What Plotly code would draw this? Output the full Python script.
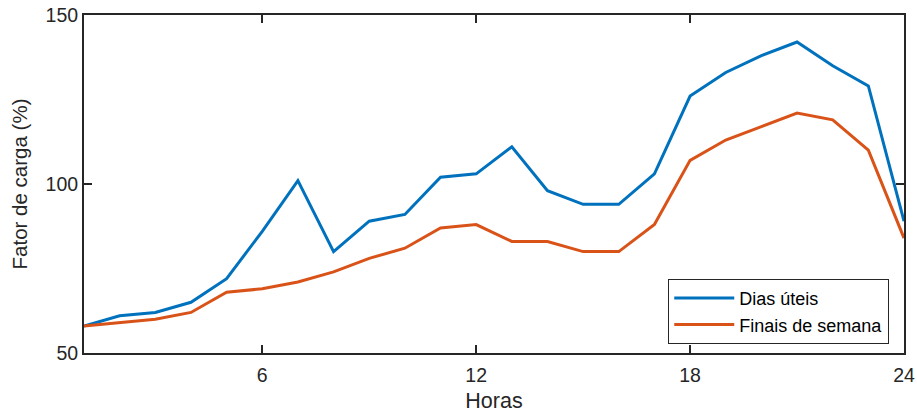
import plotly.graph_objects as go

horas = list(range(1, 25))
dias_uteis = [58, 61, 62, 65, 72, 86, 101, 80, 89, 91, 102, 103, 111, 98, 94, 94, 103, 126, 133, 138, 142, 135, 129, 89]
finais_semana = [58, 59, 60, 62, 68, 69, 71, 74, 78, 81, 87, 88, 83, 83, 80, 80, 88, 107, 113, 117, 121, 119, 110, 84]
x_ticks = [6, 12, 18, 24]
y_ticks = [50, 100, 150]

FONT = "Liberation Sans, Arial"

fig = go.Figure()
fig.add_trace(go.Scatter(x=horas, y=dias_uteis, mode="lines", name="Dias úteis",
                         line=dict(color="#0072BD", width=3)))
fig.add_trace(go.Scatter(x=horas, y=finais_semana, mode="lines", name="Finais de semana",
                         line=dict(color="#D95319", width=3)))

axis_common = dict(showline=True, linecolor="#262626", linewidth=2, mirror="ticks",
                   ticks="inside", ticklen=8, tickwidth=1.5, tickcolor="#262626",
                   showgrid=False, zeroline=False, automargin=False,
                   ticklabeloverflow="allow",
                   tickfont=dict(family=FONT, size=19.5, color="#262626"))

fig.update_xaxes(range=[1, 24], tickvals=x_ticks, ticklabelstandoff=4,
                 title=dict(text="Horas", font=dict(family=FONT, size=21.5, color="#262626"), standoff=8),
                 **axis_common)
fig.update_yaxes(range=[50, 150], tickvals=y_ticks,
                 title=dict(text="Fator de carga (%)", font=dict(family=FONT, size=20.5, color="#262626"), standoff=12),
                 **axis_common)

fig.update_layout(
    width=917, height=416,
    margin=dict(l=84, r=13, t=15, b=63),
    plot_bgcolor="white", paper_bgcolor="white",
    legend=dict(x=0.982, y=0.027, xanchor="right", yanchor="bottom",
                bordercolor="#262626", borderwidth=1, bgcolor="white",
                font=dict(family=FONT, size=18, color="#000000"),
                itemwidth=60, tracegroupgap=0),
    showlegend=True,
)

fig.write_html("out.html", config={"displayModeBar": False},
               post_script="document.body.style.margin='0';document.body.style.overflow='hidden';")
